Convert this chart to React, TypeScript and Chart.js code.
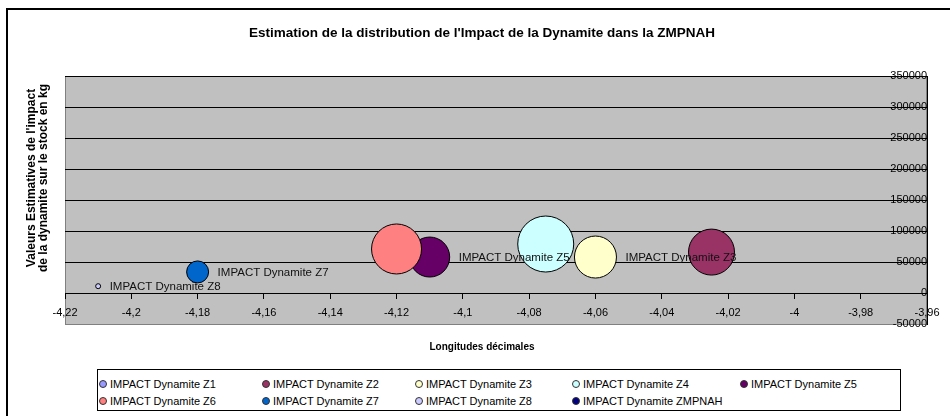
import React, { useEffect, useRef } from 'react';
import { Chart, registerables } from 'chart.js';

Chart.register(...registerables);

const FONT = 'Arial, "Liberation Sans", Helvetica, sans-serif';

const chartTitle = "Estimation de la distribution de l'Impact de la Dynamite dans la ZMPNAH";
const xAxisTitle = 'Longitudes décimales';
const yAxisTitle = ["Valeurs Estimatives de l'impact", 'de la dynamite sur le stock en kg'];

const seriesNames = [
  'IMPACT Dynamite Z1',
  'IMPACT Dynamite Z2',
  'IMPACT Dynamite Z3',
  'IMPACT Dynamite Z4',
  'IMPACT Dynamite Z5',
  'IMPACT Dynamite Z6',
  'IMPACT Dynamite Z7',
  'IMPACT Dynamite Z8',
  'IMPACT Dynamite ZMPNAH',
];
const seriesColors = ['#9999FF', '#993366', '#FFFFCC', '#CCFFFF', '#660066', '#FF8080', '#0066CC', '#CCCCFF', '#000080'];
const longitudes: (number | null)[] = [null, -4.025, -4.06, -4.075, -4.11, -4.12, -4.18, -4.21, null];
const impacts: (number | null)[] = [null, 66000, 58000, 79000, 58000, 71000, 34000, 11000, null];
const bubbleSizes = [0, 23, 21, 28, 20, 25, 11, 2.5, 0];
const showDataLabel = [false, false, true, false, true, false, true, true, false];

const xMin = -4.22;
const xMax = -3.96;
const xStep = 0.02;
const yMin = -50000;
const yMax = 350000;
const yStep = 50000;

const legendColumnX = [103, 266, 419, 576, 744];
const legendRowY = [384, 401];

const fmtX = (v: number) => String(Math.round(v * 100) / 100).replace('.', ',');

const plotBackground = {
  id: 'plotBackground',
  beforeDraw(chart: any) {
    const { ctx, chartArea } = chart;
    ctx.save();
    ctx.fillStyle = '#C0C0C0';
    ctx.fillRect(chartArea.left, chartArea.top, chartArea.right - chartArea.left, chartArea.bottom - chartArea.top);
    ctx.strokeStyle = '#808080';
    ctx.lineWidth = 1;
    ctx.strokeRect(chartArea.left + 0.5, chartArea.top + 0.5, chartArea.right - chartArea.left - 1, chartArea.bottom - chartArea.top);
    ctx.restore();
  },
};

const bubbleLabels = {
  id: 'bubbleLabels',
  afterDatasetsDraw(chart: any) {
    const { ctx } = chart;
    ctx.save();
    ctx.font = '11.5px ' + FONT;
    ctx.fillStyle = '#111';
    ctx.textAlign = 'left';
    ctx.textBaseline = 'middle';
    chart.data.datasets.forEach((ds: any, i: number) => {
      if (!showDataLabel[i]) return;
      const meta = chart.getDatasetMeta(i);
      const el = meta.data[0];
      if (!el) return;
      const r = el.options.radius;
      ctx.fillText(ds.label, el.x + r + 9, el.y + 1);
    });
    ctx.restore();
  },
};

const yTitlePlugin = {
  id: 'yTitlePlugin',
  afterDraw(chart: any) {
    const { ctx } = chart;
    ctx.save();
    ctx.translate(24, 168);
    ctx.rotate(-Math.PI / 2);
    ctx.font = 'bold 12px ' + FONT;
    ctx.fillStyle = '#000';
    ctx.textAlign = 'center';
    ctx.textBaseline = 'middle';
    yAxisTitle.forEach((line, i) => ctx.fillText(line, 0, i * 11.5));
    ctx.restore();
  },
};

export default function App() {
  const canvasRef = useRef<HTMLCanvasElement | null>(null);

  useEffect(() => {
    const canvas = canvasRef.current;
    if (!canvas) return;
    const datasets = seriesNames.map((name, i) => ({
      label: name,
      xAxisID: 'x',
      yAxisID: 'y',
      data:
        longitudes[i] === null || impacts[i] === null
          ? []
          : [{ x: longitudes[i] as number, y: impacts[i] as number, r: bubbleSizes[i] }],
      backgroundColor: seriesColors[i],
      borderColor: '#000',
      borderWidth: 1,
      hoverRadius: 0,
      order: seriesNames.length - i,
    }));

    const spacer = (side: 'left' | 'right', w: number) => ({
      type: 'linear',
      position: side,
      display: true,
      min: 0,
      max: 1,
      ticks: { display: false },
      grid: { display: false, drawTicks: false },
      border: { display: false },
      afterFit: (s: any) => {
        s.width = w;
      },
    });

    const chart = new Chart(canvas, {
      type: 'bubble',
      data: { datasets },
      plugins: [plotBackground, bubbleLabels, yTitlePlugin],
      options: {
        responsive: false,
        animation: false,
        devicePixelRatio: 1,
        events: [],
        layout: { padding: 0 },
        plugins: {
          legend: { display: false },
          tooltip: { enabled: false },
          title: {
            display: true,
            text: chartTitle,
            color: '#000',
            font: { family: FONT, size: 13.5, weight: 'bold' },
            padding: { top: 14.9, bottom: 34.9 },
          },
          subtitle: {
            display: true,
            position: 'bottom',
            text: xAxisTitle,
            color: '#000',
            font: { family: FONT, size: 10, weight: 'bold' },
            padding: { top: 17, bottom: 63 },
          },
        },
        scales: {
          x: {
            type: 'linear',
            position: { y: 0 },
            min: xMin,
            max: xMax,
            ticks: {
              stepSize: xStep,
              autoSkip: false,
              maxRotation: 0,
              color: '#000',
              padding: 8,
              font: { family: FONT, size: 11 },
              callback: (v: any) => fmtX(Number(v)),
            },
            grid: { drawOnChartArea: false, drawTicks: true, tickLength: 5, color: '#000' },
            border: { color: '#000', width: 1 },
          },
          y: {
            type: 'linear',
            position: { x: xMax },
            min: yMin,
            max: yMax,
            ticks: {
              stepSize: yStep,
              color: '#000',
              padding: 3,
              font: { family: FONT, size: 11 },
              callback: (v: any) => String(v),
            },
            grid: {
              drawTicks: true,
              tickLength: 6,
              color: (c: any) => (c.tick && c.tick.value === yMin ? '#808080' : '#000'),
            },
            border: { color: '#000', width: 1 },
          },
          spaceLeft: spacer('left', 57),
          spaceRight: spacer('right', 22),
        },
      } as any,
    });
    return () => chart.destroy();
  }, []);

  return (
    <div style={{ position: 'absolute', left: 0, top: 0, width: 950, height: 416, overflow: 'hidden', background: '#fff' }}>
      <div
        style={{
          position: 'absolute',
          left: 6,
          top: 8,
          width: 948,
          height: 406,
          borderLeft: '2px solid #000',
          borderTop: '2px solid #000',
        }}
      >
        <canvas ref={canvasRef} width={948} height={406} style={{ display: 'block', width: 948, height: 406 }} />
      </div>
      <div
        style={{
          position: 'absolute',
          left: 97,
          top: 369,
          width: 802,
          height: 40,
          border: '1px solid #000',
          background: '#fff',
        }}
      />
      {seriesNames.map((name, i) => {
        const col = i < 5 ? i : i - 5;
        const row = i < 5 ? 0 : 1;
        return (
          <div
            key={name}
            style={{
              position: 'absolute',
              left: legendColumnX[col] - 4,
              top: legendRowY[row] - 7,
              height: 14,
              display: 'flex',
              alignItems: 'center',
              whiteSpace: 'nowrap',
              font: '11px ' + FONT,
              color: '#000',
            }}
          >
            <span
              style={{
                display: 'inline-block',
                width: 6,
                height: 6,
                borderRadius: '50%',
                border: '1px solid #333',
                background: seriesColors[i],
                marginRight: 3,
              }}
            />
            <span>{name}</span>
          </div>
        );
      })}
    </div>
  );
}
